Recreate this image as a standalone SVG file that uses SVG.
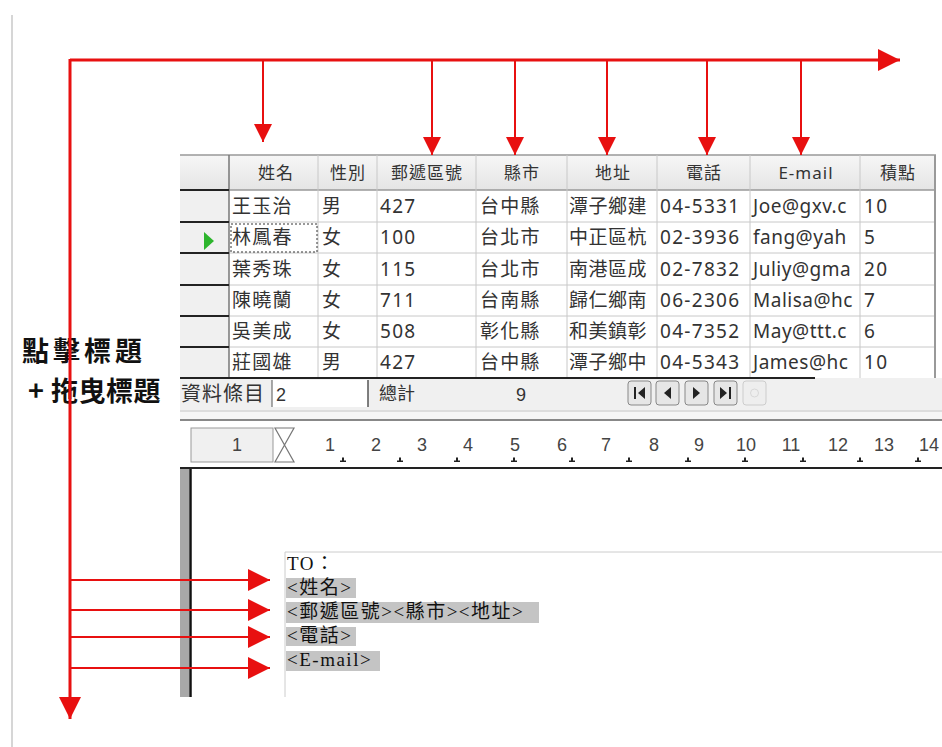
<svg xmlns="http://www.w3.org/2000/svg" width="942" height="747" viewBox="0 0 942 747">
<defs>
<style>
.cjk{font-family:"Noto Sans CJK TC","Noto Sans CJK SC",sans-serif}
.hd{font-family:"Noto Sans CJK TC",sans-serif;font-size:17px;fill:#333;text-anchor:middle;letter-spacing:1px}
.cell{font-family:"Noto Sans","Noto Sans CJK TC",sans-serif;font-size:19px;fill:#333;letter-spacing:1.3px}
.grid{stroke:#c8c8c8;stroke-width:1;fill:none}
.dark{stroke:#222;stroke-width:2}
.red{stroke:#e81010;fill:none}
.num{font-family:"Liberation Sans",sans-serif;font-size:18px;fill:#444;text-anchor:middle}
.doc{font-family:"Liberation Serif","Noto Sans CJK TC",serif;font-size:19px;fill:#111;letter-spacing:1.5px}
.hl{fill:#c4c4c4}
.btn{fill:#e6e6e6;stroke:#888;stroke-width:1}
.lbl{font-family:"Noto Sans CJK TC","Noto Sans CJK SC",sans-serif;font-size:27px;font-weight:bold;fill:#111}
</style>
<marker id="ah" viewBox="0 0 10 10" refX="10" refY="5" markerWidth="18" markerHeight="18" markerUnits="userSpaceOnUse" orient="auto">
<path d="M0,0 L10,5 L0,10 Z" fill="#e81010"/>
</marker>
<marker id="ahL" viewBox="0 0 10 10" refX="10" refY="5" markerWidth="22" markerHeight="22" markerUnits="userSpaceOnUse" orient="auto">
<path d="M0,0 L10,5 L0,10 Z" fill="#e81010"/>
</marker>
<linearGradient id="hg" x1="0" y1="0" x2="0" y2="1">
<stop offset="0" stop-color="#f6f6f6"/><stop offset="1" stop-color="#e4e4e4"/>
</linearGradient>
<clipPath id="cAddr"><rect x="567" y="190" width="89" height="190"/></clipPath>
<clipPath id="cMail"><rect x="750" y="190" width="109" height="190"/></clipPath>
</defs>
<rect width="942" height="747" fill="#fff"/>
<line x1="12" y1="15" x2="12" y2="747" stroke="#c8c8c8" stroke-width="1.5"/>

<g id="table">
<rect x="180" y="155" width="756" height="36" fill="url(#hg)"/>
<rect x="180" y="190" width="49" height="188" fill="#f0f0f0"/>
<rect x="229" y="190" width="707" height="188" fill="#fff"/>
<line x1="180" y1="155" x2="936" y2="155" stroke="#999" stroke-width="1.5"/>
<line x1="229" y1="190" x2="936" y2="190" stroke="#999" stroke-width="1.5"/>
<g class="grid">
<line x1="229" y1="222" x2="936" y2="222"/>
<line x1="229" y1="253" x2="936" y2="253"/>
<line x1="229" y1="285" x2="936" y2="285"/>
<line x1="229" y1="316" x2="936" y2="316"/>
<line x1="229" y1="347" x2="936" y2="347"/>
<line x1="318" y1="155" x2="318" y2="378"/>
<line x1="377" y1="155" x2="377" y2="378"/>
<line x1="476" y1="155" x2="476" y2="378"/>
<line x1="567" y1="155" x2="567" y2="378"/>
<line x1="657" y1="155" x2="657" y2="378"/>
<line x1="750" y1="155" x2="750" y2="378"/>
<line x1="860" y1="155" x2="860" y2="378"/>
</g>
<line x1="229" y1="155" x2="229" y2="378" stroke="#777" stroke-width="1.5"/>
<line x1="935" y1="155" x2="935" y2="378" stroke="#999" stroke-width="2"/>
<g class="dark">
<line x1="180" y1="190" x2="229" y2="190"/>
<line x1="180" y1="222" x2="229" y2="222"/>
<line x1="180" y1="253" x2="229" y2="253"/>
<line x1="180" y1="285" x2="229" y2="285"/>
<line x1="180" y1="316" x2="229" y2="316"/>
<line x1="180" y1="347" x2="229" y2="347"/>
</g>
<path d="M204,232 L214,241 L204,250 Z" fill="#2db52d"/>
<rect x="231" y="224" width="86" height="28" fill="none" stroke="#333" stroke-width="1" stroke-dasharray="2,2"/>
<text class="hd" x="276" y="179">姓名</text>
<text class="hd" x="348" y="179">性別</text>
<text class="hd" x="427" y="179">郵遞區號</text>
<text class="hd" x="522" y="179">縣市</text>
<text class="hd" x="613" y="179">地址</text>
<text class="hd" x="704" y="179">電話</text>
<text class="hd" x="806" y="179" style="font-family:'Noto Sans',sans-serif">E-mail</text>
<text class="hd" x="898" y="179">積點</text>
<g class="cell">
<text x="232" y="213">王玉治</text><text x="322" y="213">男</text><text x="380" y="213">427</text><text x="480" y="213">台中縣</text>
<text x="232" y="244">林鳳春</text><text x="322" y="244">女</text><text x="380" y="244">100</text><text x="480" y="244">台北市</text>
<text x="232" y="276">葉秀珠</text><text x="322" y="276">女</text><text x="380" y="276">115</text><text x="480" y="276">台北市</text>
<text x="232" y="307">陳曉蘭</text><text x="322" y="307">女</text><text x="380" y="307">711</text><text x="480" y="307">台南縣</text>
<text x="232" y="338">吳美成</text><text x="322" y="338">女</text><text x="380" y="338">508</text><text x="480" y="338">彰化縣</text>
<text x="232" y="369">莊國雄</text><text x="322" y="369">男</text><text x="380" y="369">427</text><text x="480" y="369">台中縣</text>
<g clip-path="url(#cAddr)" style="letter-spacing:0.5px">
<text x="569" y="213">潭子鄉建</text><text x="569" y="244">中正區杭</text><text x="569" y="276">南港區成</text>
<text x="569" y="307">歸仁鄉南</text><text x="569" y="338">和美鎮彰</text><text x="569" y="369">潭子鄉中</text>
</g>
<text x="660" y="213">04-5331</text><text x="660" y="244">02-3936</text><text x="660" y="276">02-7832</text>
<text x="660" y="307">06-2306</text><text x="660" y="338">04-7352</text><text x="660" y="369">04-5343</text>
<g clip-path="url(#cMail)" style="letter-spacing:0.5px">
<text x="753" y="213">Joe@gxv.c</text><text x="753" y="244">fang@yah</text><text x="753" y="276">Juliy@gma</text>
<text x="753" y="307">Malisa@hc</text><text x="753" y="338">May@ttt.c</text><text x="753" y="369">James@hc</text>
</g>
<text x="864" y="213">10</text><text x="864" y="244">5</text><text x="864" y="276">20</text>
<text x="864" y="307">7</text><text x="864" y="338">6</text><text x="864" y="369">10</text>
</g>
</g>

<g id="statusbar">
<rect x="180" y="378" width="762" height="32" fill="#f0f0f0"/>
<line x1="180" y1="378" x2="815" y2="378" stroke="#222" stroke-width="2"/>
<rect x="272" y="380" width="96" height="27" fill="#fff"/>
<line x1="272" y1="380" x2="272" y2="407" stroke="#555" stroke-width="1"/>
<line x1="368" y1="380" x2="368" y2="407" stroke="#555" stroke-width="1.5"/>
<text class="cjk" x="181" y="401" font-size="20" fill="#333" letter-spacing="1">資料條目</text>
<text x="276" y="401" font-family="Liberation Sans, sans-serif" font-size="18" fill="#333">2</text>
<text class="cjk" x="379" y="400" font-size="18" fill="#333">總計</text>
<text x="521" y="401" font-family="Liberation Sans, sans-serif" font-size="18" fill="#333" text-anchor="middle">9</text>
<rect class="btn" x="628" y="381" width="23" height="24" rx="3"/>
<rect class="btn" x="656" y="381" width="23" height="24" rx="3"/>
<rect class="btn" x="685" y="381" width="23" height="24" rx="3"/>
<rect class="btn" x="714" y="381" width="23" height="24" rx="3"/>
<rect x="743" y="381" width="23" height="24" rx="3" fill="#eee" stroke="#ccc"/>
<path d="M634,387 h2 v12 h-2 Z M645,387 v12 l-7,-6 Z" fill="#222"/>
<path d="M671,387 v12 l-7,-6 Z" fill="#222"/>
<path d="M693,387 v12 l7,-6 Z" fill="#222"/>
<path d="M720,387 v12 l7,-6 Z M729,387 h2 v12 h-2 Z" fill="#222"/>
<circle cx="754.5" cy="393" r="4" fill="none" stroke="#d8d8d8"/>
<line x1="180" y1="411" x2="942" y2="411" stroke="#bbb" stroke-width="1"/>
<rect x="180" y="412" width="762" height="8" fill="#f6f6f6"/>
</g>

<g id="ruler">
<line x1="180" y1="420" x2="942" y2="420" stroke="#888" stroke-width="2"/>
<rect x="191" y="428" width="82" height="34" fill="#f0f0f0" stroke="#999"/>
<text class="num" x="237" y="451">1</text>
<path d="M275,428 H294 L284.5,445 L294,462 H275 L284.5,445 Z" fill="#fff" stroke="#777" stroke-width="1.2"/>
<text class="num" x="330" y="451">1</text><text class="num" x="376" y="451">2</text><text class="num" x="422" y="451">3</text>
<text class="num" x="468" y="451">4</text><text class="num" x="515" y="451">5</text><text class="num" x="562" y="451">6</text>
<text class="num" x="606" y="451">7</text><text class="num" x="654" y="451">8</text><text class="num" x="699" y="451">9</text>
<text class="num" x="746" y="451">10</text><text class="num" x="791" y="451">11</text><text class="num" x="838" y="451">12</text>
<text class="num" x="884" y="451">13</text><text class="num" x="929" y="451">14</text>
<g fill="#222">
<path d="M340,462 h6 v-1.5 h-2 v-3 h-2 v3 h-2 Z"/>
<path d="M397,462 h6 v-1.5 h-2 v-3 h-2 v3 h-2 Z"/>
<path d="M454,462 h6 v-1.5 h-2 v-3 h-2 v3 h-2 Z"/>
<path d="M511,462 h6 v-1.5 h-2 v-3 h-2 v3 h-2 Z"/>
<path d="M569,462 h6 v-1.5 h-2 v-3 h-2 v3 h-2 Z"/>
<path d="M626,462 h6 v-1.5 h-2 v-3 h-2 v3 h-2 Z"/>
<path d="M685,462 h6 v-1.5 h-2 v-3 h-2 v3 h-2 Z"/>
<path d="M742,462 h6 v-1.5 h-2 v-3 h-2 v3 h-2 Z"/>
<path d="M800,462 h6 v-1.5 h-2 v-3 h-2 v3 h-2 Z"/>
<path d="M857,462 h6 v-1.5 h-2 v-3 h-2 v3 h-2 Z"/>
<path d="M915,462 h6 v-1.5 h-2 v-3 h-2 v3 h-2 Z"/>
</g>
<line x1="180" y1="468" x2="942" y2="468" stroke="#222" stroke-width="2"/>
</g>

<g id="document">
<rect x="180" y="469" width="9" height="228" fill="#a8a8a8"/>
<line x1="190.5" y1="469" x2="190.5" y2="697" stroke="#111" stroke-width="2.5"/>
<line x1="285" y1="552" x2="942" y2="552" stroke="#ccc" stroke-width="1"/>
<line x1="285" y1="552" x2="285" y2="697" stroke="#ccc" stroke-width="1"/>
<rect class="hl" x="286" y="578" width="70" height="20"/>
<rect class="hl" x="286" y="602" width="253" height="21"/>
<rect class="hl" x="286" y="627" width="70" height="19"/>
<rect class="hl" x="286" y="651" width="94" height="20"/>
<text class="doc" x="287" y="570">TO：</text>
<text class="doc" x="287" y="594">&lt;姓名&gt;</text>
<text class="doc" x="287" y="618">&lt;郵遞區號&gt;&lt;縣市&gt;&lt;地址&gt;</text>
<text class="doc" x="287" y="642">&lt;電話&gt;</text>
<text class="doc" x="287" y="666">&lt;E-mail&gt;</text>
</g>

<g id="label">
<text class="lbl" x="22" y="361" letter-spacing="4">點擊標題</text>
<text class="lbl" x="28" y="401" letter-spacing="0.5">+ 拖曳標題</text>
</g>

<g id="connectors">
<line class="red" x1="70" y1="60" x2="900" y2="60" stroke-width="3" marker-end="url(#ahL)"/>
<line class="red" x1="70" y1="59" x2="70" y2="719" stroke-width="3" marker-end="url(#ahL)"/>
<line class="red" x1="263" y1="60" x2="263" y2="142" stroke-width="2" marker-end="url(#ah)"/>
<line class="red" x1="432" y1="60" x2="432" y2="155" stroke-width="2" marker-end="url(#ah)"/>
<line class="red" x1="515" y1="60" x2="515" y2="155" stroke-width="2" marker-end="url(#ah)"/>
<line class="red" x1="607" y1="60" x2="607" y2="155" stroke-width="2" marker-end="url(#ah)"/>
<line class="red" x1="707" y1="60" x2="707" y2="155" stroke-width="2" marker-end="url(#ah)"/>
<line class="red" x1="801" y1="60" x2="801" y2="155" stroke-width="2" marker-end="url(#ah)"/>
<line class="red" x1="70" y1="580" x2="270" y2="580" stroke-width="2" marker-end="url(#ahL)"/>
<line class="red" x1="70" y1="610" x2="270" y2="610" stroke-width="2" marker-end="url(#ahL)"/>
<line class="red" x1="70" y1="637" x2="270" y2="637" stroke-width="2" marker-end="url(#ahL)"/>
<line class="red" x1="70" y1="668" x2="270" y2="668" stroke-width="2" marker-end="url(#ahL)"/>
</g>
</svg>
